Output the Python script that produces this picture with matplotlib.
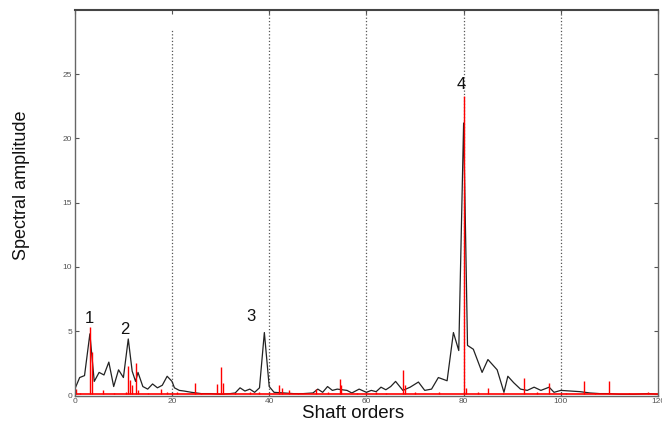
import numpy as np
import matplotlib.pyplot as plt

plt.rcParams['font.family'] = ['Liberation Sans', 'DejaVu Sans']

# black trace (order, amplitude)
black_x = [0, 1, 2, 3.1, 4, 5, 6, 7, 8, 9, 10, 11, 11.8, 12.5, 13, 14, 15, 16, 17, 18,
           19, 20, 20.5, 21.5, 22.5, 24, 26, 28, 30, 32, 33, 34, 35, 36, 37, 38, 39, 40,
           41, 43, 45, 47, 49, 50, 51, 52, 53, 54, 56, 57, 58.5, 60, 61, 62, 63, 64, 65,
           66, 67.5, 69, 70.7, 72, 73.4, 74.8, 76.6, 77.9, 79, 80, 80.8, 82, 83.8, 85,
           86.9, 88.3, 89.1, 90.3, 91.7, 93.1, 94.5, 95.9, 97.6, 98.6, 100, 102, 104,
           106, 108, 110, 112, 115, 118, 120]
black_y = [0.5, 1.4, 1.55, 4.8, 1.1, 1.8, 1.6, 2.6, 0.7, 2.0, 1.4, 4.4, 1.9, 1.1, 1.8,
           0.7, 0.5, 0.9, 0.6, 0.8, 1.5, 1.1, 0.6, 0.4, 0.35, 0.25, 0.15, 0.15, 0.1, 0.15,
           0.2, 0.6, 0.35, 0.5, 0.25, 0.6, 4.9, 0.7, 0.25, 0.2, 0.15, 0.15, 0.2, 0.5, 0.25,
           0.7, 0.4, 0.5, 0.4, 0.2, 0.5, 0.25, 0.4, 0.3, 0.65, 0.45, 0.7, 1.1, 0.4, 0.65,
           1.05, 0.4, 0.5, 1.4, 1.15, 4.9, 3.5, 21.2, 3.9, 3.6, 1.8, 2.8, 2.0, 0.25, 1.5,
           1.0, 0.5, 0.4, 0.65, 0.4, 0.65, 0.25, 0.4, 0.35, 0.3, 0.2, 0.15, 0.15, 0.1,
           0.1, 0.15, 0.1]

# red spectrum: spike orders and heights
red_x = [0.3, 1, 3.1, 3.6, 5.7, 8, 10.5, 11, 11.4, 11.8, 12.5, 13, 15, 17.7, 19, 21,
         24.8, 26, 29.3, 30.1, 30.5, 33, 36, 38, 42, 42.6, 44, 46, 49.7, 52, 54.5, 54.8,
         58, 62, 64, 67.6, 68, 70, 75, 80, 80.5, 83, 85, 88, 92.4, 95, 97.6, 101, 104.8,
         107, 110, 114, 118]
red_y = [0.5, 0.2, 5.3, 3.4, 0.4, 0.2, 0.3, 2.3, 1.2, 0.8, 2.5, 0.4, 0.2, 0.5, 0.3, 0.3,
         1.0, 0.2, 0.9, 2.2, 1.0, 0.2, 0.3, 0.3, 0.8, 0.6, 0.4, 0.2, 0.5, 0.3, 1.3, 0.8,
         0.2, 0.3, 0.2, 2.0, 0.8, 0.3, 0.3, 23.3, 0.6, 0.3, 0.6, 0.2, 1.4, 0.3, 1.0, 0.2,
         1.1, 0.2, 1.1, 0.2, 0.3]
red_floor = 0.1

grid_x = [20, 40, 60, 80, 100]
grid_top = [28.5, 30, 30, 30, 30]

peak_labels = ['1', '2', '3', '4']
peak_x = [2.9, 10.3, 36.3, 79.5]
peak_y = [6.0, 5.1, 6.15, 24.2]

fig = plt.figure(figsize=(6.62, 4.29), dpi=100)
ax = fig.add_axes([0.113, 0.078, 0.881, 0.899])

ax.vlines(grid_x, 0, grid_top, colors='#555555', linestyles=':', linewidth=0.9)
ax.plot(black_x, black_y, color='#222222', linewidth=0.9)
ax.plot([0, 120], [red_floor, red_floor], color='red', linewidth=1.2)
ax.vlines(red_x, red_floor, red_y, colors='red', linewidth=1.0)

for lab, x, y in zip(peak_labels, peak_x, peak_y):
    ax.text(x, y, lab, fontsize=12, ha='center', va='center', color='#111111')

ax.set_xlim(0, 120)
ax.set_ylim(0, 30)
ax.set_xticks([0, 20, 40, 60, 80, 100, 120])
ax.set_yticks([0, 5, 10, 15, 20, 25])
ax.tick_params(direction='in', labelsize=6, labelcolor='#555555', colors='#555555',
               top=True, right=True, length=3, pad=2)
for s in ax.spines.values():
    s.set_color('#666666')
    s.set_linewidth(1.0)
ax.spines['top'].set_linewidth(1.5)
ax.spines['top'].set_color('#444444')

ax.set_xlabel('Shaft orders', fontsize=13.5, color='#111111')
ax.xaxis.set_label_coords(0.477, -0.025)
ax.set_ylabel('Spectral amplitude', fontsize=13, color='#111111')
ax.yaxis.set_label_coords(-0.077, 0.544)

fig.savefig('out.png', dpi=100)
